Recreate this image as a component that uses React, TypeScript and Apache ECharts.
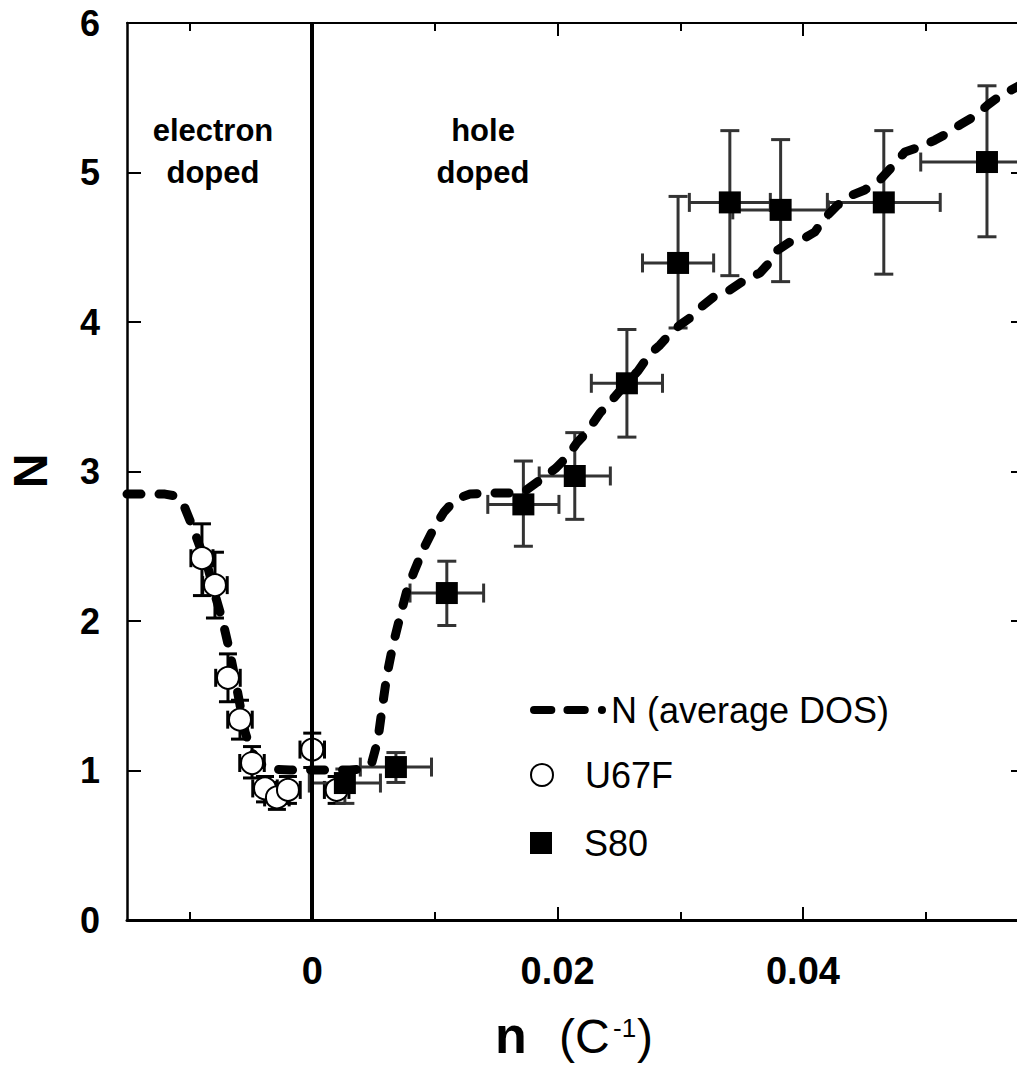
import React, { useEffect, useRef } from "react";
import * as echarts from "echarts";

const FONT = '"Liberation Sans", Arial, Helvetica, sans-serif';

// Average DOS curve N(n)
const curveX = [
  -0.0151, -0.012, -0.01111, -0.01038, -0.00972, -0.00915, -0.0085, -0.00785, -0.00728, -0.00679,
  -0.0063, -0.00589, -0.00548, -0.005, -0.00434, -0.00345, -0.00182, 0.00063, 0.00307, 0.00421,
  0.00487, 0.00535, 0.00568, 0.00609, 0.00658, 0.00715, 0.00772, 0.00829, 0.00902, 0.00984,
  0.01074, 0.01171, 0.01286, 0.01448, 0.01611, 0.01734, 0.01856, 0.01986, 0.02076, 0.02157,
  0.02239, 0.02345, 0.02443, 0.02549, 0.02655, 0.02752, 0.02834, 0.02915, 0.02997, 0.03078,
  0.0316, 0.03282, 0.03404, 0.03526, 0.03649, 0.0373, 0.03795, 0.03893, 0.04015, 0.04097,
  0.04178, 0.04284, 0.04382, 0.04504, 0.04627, 0.04725, 0.04831, 0.04953, 0.05076, 0.05181,
  0.05279, 0.05401, 0.05507, 0.05605, 0.05743, 0.0581,
];
const curveY = [
  2.849, 2.849, 2.836, 2.756, 2.622, 2.495, 2.355, 2.154, 1.993, 1.819,
  1.619, 1.438, 1.258, 1.137, 1.05, 1.01, 1.003, 1.003, 1.003, 1.01,
  1.057, 1.204, 1.405, 1.639, 1.839, 2.027, 2.207, 2.328, 2.475, 2.609,
  2.729, 2.816, 2.849, 2.856, 2.856, 2.87, 2.943, 3.023, 3.097, 3.191,
  3.264, 3.391, 3.478, 3.579, 3.672, 3.786, 3.846, 3.92, 3.98, 4.027,
  4.094, 4.174, 4.214, 4.281, 4.328, 4.401, 4.482, 4.535, 4.562, 4.602,
  4.696, 4.783, 4.843, 4.883, 4.95, 5.037, 5.137, 5.171, 5.217, 5.264,
  5.318, 5.378, 5.452, 5.512, 5.572, 5.6,
];

// U67F (open circles)
const u67fX = [-0.00899, -0.00793, -0.00687, -0.00589, -0.00491, -0.00385, -0.00288, -0.00198, 0.0, 0.00199];
const u67fY = [2.42, 2.24, 1.62, 1.34, 1.05, 0.88, 0.82, 0.87, 1.14, 0.87];
const u67fXErr = [0.0009, 0.001, 0.001, 0.001, 0.001, 0.001, 0.001, 0.001, 0.001, 0.001];
const u67fYLow = [2.17, 2.02, 1.46, 1.21, 0.95, 0.79, 0.74, 0.78, 1.02, 0.78];
const u67fYHigh = [2.65, 2.46, 1.78, 1.47, 1.16, 0.96, 0.9, 0.96, 1.25, 0.96];

// S80 (filled squares)
const s80X = [0.00266, 0.00682, 0.01097, 0.01721, 0.0214, 0.02565, 0.02982, 0.03404, 0.03818, 0.04659, 0.055];
const s80Y = [0.916, 1.023, 2.187, 2.78, 2.97, 3.59, 4.395, 4.8, 4.75, 4.8, 5.07];
const s80XErr = [0.0029, 0.0029, 0.003, 0.0029, 0.0029, 0.0029, 0.0029, 0.0033, 0.0039, 0.0046, 0.0054];
const s80YLow = [0.78, 0.92, 1.97, 2.5, 2.68, 3.23, 3.96, 4.31, 4.27, 4.32, 4.57];
const s80YHigh = [1.01, 1.12, 2.4, 3.07, 3.26, 3.95, 4.84, 5.28, 5.22, 5.28, 5.58];

// Axis ticks
const xMin = -0.0151;
const xMax = 0.0581;
const xMajorTicks = [0, 0.02, 0.04];
const xMajorLabels = ["0", "0.02", "0.04"];
const xMinorTicks = [-0.01, 0.01, 0.03, 0.05];
const yMin = 0;
const yMax = 6;
const yInterval = 1;

const seriesNames = ["N (average DOS)", "U67F", "S80"];

const DASH_ICON =
  "path://M4,0H21A4,4 0 0 1 21,8H4A4,4 0 0 1 4,0Z M37,0H54A4,4 0 0 1 54,8H37A4,4 0 0 1 37,0Z M71,0A4,4 0 0 1 71,8A4,4 0 0 1 71,0Z";
const SQUARE_ICON = "path://M0 0H10V10H0Z";

function makeErrRender(color: string, cap: number, width: number) {
  return (params: any, api: any) => {
    const x = api.value(0);
    const y = api.value(1);
    const xe = api.value(2);
    const lo = api.value(3);
    const hi = api.value(4);
    const pLo = api.coord([x, lo]);
    const pHi = api.coord([x, hi]);
    const pL = api.coord([x - xe, y]);
    const pR = api.coord([x + xe, y]);
    const h = cap / 2;
    const style = { stroke: color, lineWidth: width, fill: null };
    const ln = (x1: number, y1: number, x2: number, y2: number) => ({
      type: "line",
      shape: { x1, y1, x2, y2 },
      style,
    });
    return {
      type: "group",
      children: [
        ln(pLo[0], pLo[1], pHi[0], pHi[1]),
        ln(pLo[0] - h, pLo[1], pLo[0] + h, pLo[1]),
        ln(pHi[0] - h, pHi[1], pHi[0] + h, pHi[1]),
        ln(pL[0], pL[1], pR[0], pR[1]),
        ln(pL[0], pL[1] - h, pL[0], pL[1] + h),
        ln(pR[0], pR[1] - h, pR[0], pR[1] + h),
      ],
    };
  };
}

const xAxisBase = {
  type: "value",
  min: xMin,
  max: xMax,
  splitLine: { show: false },
  axisPointer: { show: false },
};

const txt = (x: number, y: number, text: string, fontSize: number, bold: boolean, align = "center", extra: any = {}) => ({
  type: "text",
  x,
  y,
  ...extra,
  style: {
    text,
    fontSize,
    fontWeight: bold ? "bold" : "normal",
    fontFamily: FONT,
    fill: "#000",
    align,
    verticalAlign: "middle",
  },
});

export default function App() {
  const ref = useRef<HTMLDivElement>(null);

  useEffect(() => {
    if (!ref.current) return;
    const chart = echarts.init(ref.current, undefined, { renderer: "svg" });

    const curveData = curveX.map((x, i) => [x, curveY[i]]);
    const u67fData = u67fX.map((x, i) => [x, u67fY[i]]);
    const u67fErr = u67fX.map((x, i) => [x, u67fY[i], u67fXErr[i], u67fYLow[i], u67fYHigh[i]]);
    const s80Data = s80X.map((x, i) => [x, s80Y[i]]);
    const s80Err = s80X.map((x, i) => [x, s80Y[i], s80XErr[i], s80YLow[i], s80YHigh[i]]);

    const legendCommon = {
      left: 530,
      orient: "vertical",
      padding: 0,
      itemWidth: 76,
      itemHeight: 22,
      selectedMode: false,
      textStyle: { fontSize: 36, fontFamily: FONT, color: "#000" },
    };

    const option: any = {
      animation: false,
      backgroundColor: "#fff",
      grid: { left: 127, top: 23, right: 0, bottom: 146, containLabel: false },
      xAxis: [
        {
          ...xAxisBase,
          position: "bottom",
          axisLine: { show: true, onZero: false, lineStyle: { color: "#000", width: 3 } },
          axisTick: {
            show: true,
            inside: true,
            length: 13,
            customValues: xMajorTicks,
            lineStyle: { color: "#000", width: 2 },
          },
          axisLabel: {
            show: true,
            customValues: xMajorTicks,
            formatter: (v: number) => {
              const idx = xMajorTicks.findIndex((t) => Math.abs(t - v) < 1e-9);
              return idx >= 0 ? xMajorLabels[idx] : "";
            },
            fontSize: 38,
            fontWeight: "bold",
            fontFamily: FONT,
            color: "#000",
            margin: 32,
          },
        },
        {
          ...xAxisBase,
          position: "bottom",
          axisLine: { show: false, onZero: false },
          axisTick: {
            show: true,
            inside: true,
            length: 8,
            customValues: xMinorTicks,
            lineStyle: { color: "#000", width: 2 },
          },
          axisLabel: { show: false },
        },
        {
          ...xAxisBase,
          position: "top",
          axisLine: { show: true, onZero: false, lineStyle: { color: "#000", width: 2 } },
          axisTick: {
            show: true,
            inside: true,
            length: 13,
            customValues: xMajorTicks,
            lineStyle: { color: "#000", width: 2 },
          },
          axisLabel: { show: false },
        },
        {
          ...xAxisBase,
          position: "top",
          axisLine: { show: false, onZero: false },
          axisTick: {
            show: true,
            inside: true,
            length: 8,
            customValues: xMinorTicks,
            lineStyle: { color: "#000", width: 2 },
          },
          axisLabel: { show: false },
        },
      ],
      yAxis: [
        {
          type: "value",
          position: "left",
          min: yMin,
          max: yMax,
          interval: yInterval,
          splitLine: { show: false },
          axisLine: { show: true, onZero: false, lineStyle: { color: "#000", width: 2.5 } },
          axisTick: { show: true, inside: true, length: 14, lineStyle: { color: "#000", width: 2 } },
          axisLabel: {
            fontSize: 36,
            fontWeight: "bold",
            fontFamily: FONT,
            color: "#000",
            margin: 27,
          },
        },
        {
          type: "value",
          position: "right",
          min: yMin,
          max: yMax,
          interval: yInterval,
          splitLine: { show: false },
          axisLine: { show: true, onZero: false, lineStyle: { color: "#000", width: 2 } },
          axisTick: { show: true, inside: true, length: 14, lineStyle: { color: "#000", width: 2 } },
          axisLabel: { show: false },
        },
      ],
      legend: [
        {
          ...legendCommon,
          top: 692,
          itemStyle: { borderWidth: 0 },
          data: [{ name: seriesNames[0], icon: DASH_ICON }],
        },
        {
          ...legendCommon,
          top: 757,
          data: [{ name: seriesNames[1], icon: "circle" }],
        },
        {
          ...legendCommon,
          top: 825,
          data: [{ name: seriesNames[2], icon: SQUARE_ICON }],
        },
      ],
      graphic: [
        txt(213, 130, "electron", 31, true),
        txt(213, 172, "doped", 31, true),
        txt(483, 130, "hole", 31, true),
        txt(483, 172, "doped", 31, true),
        txt(30, 471, "N", 48, true, "center", { rotation: Math.PI / 2 }),
        txt(495, 1035, "n", 52, true, "left"),
        txt(559, 1036, "(C", 48, false, "left"),
        txt(613, 1028, "-1", 26, false, "left"),
        txt(637, 1036, ")", 48, false, "left"),
      ],
      series: [
        {
          name: "U67F err",
          type: "custom",
          xAxisIndex: 0,
          yAxisIndex: 0,
          z: 2,
          renderItem: makeErrRender("#000", 18, 3),
          encode: { x: 0, y: 1 },
          data: u67fErr,
          silent: true,
        },
        {
          name: "S80 err",
          type: "custom",
          xAxisIndex: 0,
          yAxisIndex: 0,
          z: 2,
          renderItem: makeErrRender("#333", 19, 3),
          encode: { x: 0, y: 1 },
          data: s80Err,
          silent: true,
        },
        {
          name: seriesNames[0],
          type: "line",
          xAxisIndex: 0,
          yAxisIndex: 0,
          z: 3,
          symbol: "none",
          showSymbol: false,
          smooth: false,
          data: curveData,
          itemStyle: { color: "#000" },
          lineStyle: { color: "#000", width: 9, type: [14, 18], cap: "round", join: "round" },
          markLine: {
            silent: true,
            symbol: ["none", "none"],
            label: { show: false },
            lineStyle: { color: "#000", width: 4, type: "solid" },
            data: [{ xAxis: 0 }],
          },
        },
        {
          name: seriesNames[1],
          type: "scatter",
          xAxisIndex: 0,
          yAxisIndex: 0,
          z: 4,
          symbol: "circle",
          symbolSize: 22,
          data: u67fData,
          itemStyle: { color: "#fff", borderColor: "#000", borderWidth: 2, opacity: 1 },
        },
        {
          name: seriesNames[2],
          type: "scatter",
          xAxisIndex: 0,
          yAxisIndex: 0,
          z: 5,
          symbol: "rect",
          symbolSize: 22,
          data: s80Data,
          itemStyle: { color: "#000", opacity: 1 },
        },
      ],
    };

    chart.setOption(option);
    return () => chart.dispose();
  }, []);

  return (
    <div
      style={{ position: "absolute", left: 0, top: 0, width: 1017, height: 1066, overflow: "hidden", background: "#fff" }}
    >
      <div ref={ref} style={{ position: "absolute", left: 0, top: 0, width: 1025, height: 1066 }} />
    </div>
  );
}
